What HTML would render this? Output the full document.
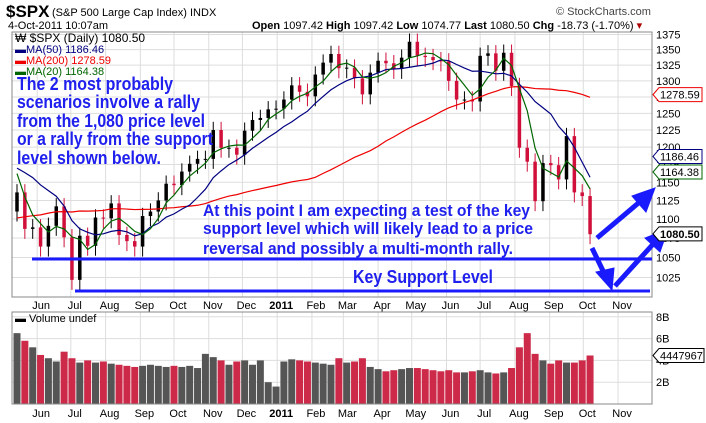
<!DOCTYPE html>
<html><head><meta charset="utf-8"><style>
body{margin:0;background:#fff;width:706px;height:423px;overflow:hidden;font-family:"Liberation Sans",sans-serif}
svg{display:block}
</style></head><body>
<svg id="c" width="706" height="423" xmlns="http://www.w3.org/2000/svg" font-family="Liberation Sans, sans-serif">
<text x="6" y="17" font-size="17" font-weight="bold">$SPX</text>
<text x="52" y="16" font-size="11">(S&amp;P 500 Large Cap Index) INDX</text>
<text x="8" y="29" font-size="11">4-Oct-2011 10:07am</text>
<text x="556" y="15" font-size="11" fill="#444">© StockCharts.com</text>
<text x="252" y="29" font-size="11"><tspan font-weight="bold">Open</tspan> 1097.42 <tspan font-weight="bold">High</tspan> 1097.42 <tspan font-weight="bold">Low</tspan> 1074.77 <tspan font-weight="bold">Last</tspan> 1080.50 <tspan font-weight="bold">Chg</tspan> -18.73 (-1.70%) <tspan fill="#a00">▾</tspan></text>
<g id="grid"></g>
<g id="marks"></g>
<rect x="12" y="32" width="640" height="265" fill="none" stroke="#888"/>
<rect x="12" y="312" width="640" height="92" fill="none" stroke="#888"/>
<g font-size="11">
<text x="15" y="42" font-size="12">₩ $SPX (Daily) 1080.50</text>
<text x="15" y="53" fill="#000080">▬MA(50) 1186.46</text>
<text x="15" y="64" fill="#e00">▬MA(200) 1278.59</text>
<text x="15" y="75" fill="#060">▬MA(20) 1164.38</text>
</g>
<text x="15" y="322" font-size="11">▬ Volume undef</text>
<g font-size="18" font-weight="bold" fill="#2020ee">
<text x="17" y="90" textLength="156" lengthAdjust="spacingAndGlyphs">The 2 most probably</text>
<text x="17" y="108" textLength="183" lengthAdjust="spacingAndGlyphs">scenarios involve a rally</text>
<text x="17" y="127" textLength="188" lengthAdjust="spacingAndGlyphs">from the 1,080 price level</text>
<text x="17" y="145" textLength="196" lengthAdjust="spacingAndGlyphs">or a rally from the support</text>
<text x="17" y="164" textLength="144" lengthAdjust="spacingAndGlyphs">level shown below.</text>
</g>
<g font-size="17" font-weight="bold" fill="#2020ee">
<text x="203" y="216" textLength="327" lengthAdjust="spacingAndGlyphs">At this point I am expecting a test of the key</text>
<text x="203" y="234" textLength="330" lengthAdjust="spacingAndGlyphs">support level which will likely lead to a price</text>
<text x="203" y="254" textLength="310" lengthAdjust="spacingAndGlyphs">reversal and possibly a multi-month rally.</text>
</g>
<text x="353" y="283" font-size="18" font-weight="bold" fill="#2020ee" textLength="140" lengthAdjust="spacingAndGlyphs">Key Support Level</text>
<line x1="32" y1="259" x2="652" y2="259" stroke="#1a1aff" stroke-width="3"/>
<line x1="75" y1="291" x2="650" y2="291" stroke="#1a1aff" stroke-width="3"/>
<g stroke="#1a1aff" stroke-width="5" fill="#1a1aff">
<line x1="597" y1="238" x2="642" y2="200"/><polygon points="655,188 632,196 646,212" stroke-width="1"/>
<line x1="592" y1="248" x2="605" y2="275"/><polygon points="612,290 596,272 614,268" stroke-width="1"/>
<line x1="615" y1="286" x2="655" y2="242"/><polygon points="668,229 645,238 660,252" stroke-width="1"/>
</g>
<g id="tags"></g>
</svg>
<script>
const histCloses=[1010,1004,1026,1029,1021,998,1042,1068,1044,1025,1071,1087,1079,1036,1069,1093,1091,1091,1105,1106,1102,1126,1115,1144,1136,1091,1073,1066,1075,1109,1104,1138,1150,1159,1166,1169,1194,1211,1217,1186,1110];
const closes=[1136,1087,1089,1064,1091,1117,1076,1022,1078,1065,
1102,1101,1121,1079,1071,1064,1104,1110,1125,1148,
1146,1165,1176,1183,1183,1225,1199,1199,1189,1224,
1240,1243,1256,1257,1271,1293,1283,1276,1310,1329,
1343,1320,1321,1304,1279,1313,1332,1328,1319,1337,
1363,1340,1338,1333,1331,1300,1271,1271,1268,1340,
1344,1316,1345,1292,1199,1179,1124,1177,1174,1154,
1216,1136,1131,1080];
const volumes=[6.5,5.8,5.2,4.5,4.2,3.9,4.8,4.2,3.8,4.0,
3.8,3.9,3.7,3.6,3.5,3.4,3.5,3.6,3.5,3.4,
3.5,3.4,3.5,3.3,4.6,4.3,4.0,3.6,3.9,4.0,
3.6,4.0,2.0,1.6,3.9,4.1,4.0,3.9,3.8,3.7,
3.6,4.2,3.8,3.9,4.2,3.4,3.2,3.0,3.1,3.2,
3.3,3.3,3.2,3.1,3.0,3.1,2.9,2.9,3.0,3.1,
2.9,2.8,2.9,3.3,5.2,6.5,4.6,4.0,3.7,4.0,
3.8,3.8,4.0,4.45];
const priceTicks=[1025,1050,1075,1100,1125,1150,1175,1200,1225,1250,1275,1300,1325,1350,1375];
const volTicks=[2,4,6,8];
const monthLabels=["Jun","Jul","Aug","Sep","Oct","Nov","Dec","2011","Feb","Mar","Apr","May","Jun","Jul","Aug","Sep","Oct","Nov"];
const monthDays=[18,48,79,110,140,171,201,232,263,291,322,352,383,413,444,475,505,536];
const tagValues=[1278.59,1186.46,1164.38,1080.50];
const tagText=["1278.59","1186.46","1164.38","1080.50"];
const tagColors=["#e00","#000080","#060","#000"];

const NS="http://www.w3.org/2000/svg";
const yP=p=>34.5+(Math.log(1375)-Math.log(p))*827;
const yV=v=>404-v*10.9;
const xI=i=>17+i*7.85;
const xD=d=>17+d*1.1214;
function mk(tag,attrs,parent,txt){const e=document.createElementNS(NS,tag);for(const k in attrs)e.setAttribute(k,attrs[k]);if(txt!=null)e.textContent=txt;parent.appendChild(e);return e;}
const grid=document.getElementById('grid'),marks=document.getElementById('marks'),tags=document.getElementById('tags');
priceTicks.forEach(t=>{
 const l=mk('line',{x1:12,x2:652,y1:yP(t),y2:yP(t),stroke:'#ddd'},grid);
 
 
 const tx=mk('text',{x:656,y:yP(t)+4,'font-size':11},grid,t);
 
 
});
volTicks.forEach(t=>{
 const l=mk('line',{x1:12,x2:652,y1:yV(t),y2:yV(t),stroke:'#ddd'},grid);
 
 
 const tx=mk('text',{x:656,y:yV(t)+4,'font-size':11},grid,t+'B');
 
 
});
monthDays.forEach((d,i)=>{
 const x=xD(d);
 const l1=mk('line',{x1:x,x2:x,y1:32,y2:297,stroke:'#ddd'},grid);
 
 
 const l2=mk('line',{x1:x,x2:x,y1:312,y2:404,stroke:'#ddd'},grid);
 
 
 const b=monthLabels[i]==="2011";
 const t1=mk('text',{x:x+4,y:309,'font-size':11,'text-anchor':'middle','font-weight':b?'bold':'normal'},grid,monthLabels[i]);
 
 
 const t2=mk('text',{x:x+4,y:417,'font-size':11,'text-anchor':'middle','font-weight':b?'bold':'normal'},grid,monthLabels[i]);
 
 
});
const all=histCloses.concat(closes),H=histCloses.length;
closes.forEach((c,i)=>{
 const prev=i?closes[i-1]:histCloses[H-1];
 const up=c>=prev,col=up?'#000':'#d0103a';
 const hi=Math.max(c,prev)*1.01,lo=Math.min(c,prev)*0.988,x=xI(i);
 const w=mk('line',{x1:x,x2:x,y1:yP(hi),y2:yP(lo),stroke:col,'stroke-width':1},marks);
 
 
 const b=mk('rect',{x:x-1.75,y:yP(Math.max(c,prev)),width:3.5,height:Math.max(1,yP(Math.min(c,prev))-yP(Math.max(c,prev))),fill:col},marks);
 
 
 const v=volumes[i];
 const vb=mk('rect',{x:x-3.5,y:yV(v),width:7,height:404-yV(v),fill:up?'#555':'#cc2a48'},marks);
 
 
});
function ma(n,col,name){
 const pts=closes.map((c,i)=>{const s=all.slice(H+i-n+1,H+i+1);return xI(i)+','+yP(s.reduce((a,b)=>a+b,0)/s.length);});
 const p=mk('polyline',{points:pts.join(' '),fill:'none',stroke:col,'stroke-width':1.2},marks);
 
 
}
ma(40,'#e00','ma200-line');ma(10,'#000080','ma50-line');ma(4,'#060','ma20-line');
tagValues.forEach((v,i)=>{
 const y=yP(v);
 const g=mk('g',{},tags);
 
 
 mk('polygon',{points:`653,${y} 659,${y-7} 702,${y-7} 702,${y+7} 659,${y+7}`,fill:'#fff',stroke:tagColors[i]},g);
 mk('text',{x:660,y:y+4,'font-size':11,'font-weight':i==3?'bold':'normal'},g,tagText[i]);
});
(function(){const y=yV(4.45);const g=mk('g',{},tags);
 
 
 mk('polygon',{points:`653,${y} 659,${y-7} 704,${y-7} 704,${y+7} 659,${y+7}`,fill:'#fff',stroke:'#000'},g);
 mk('text',{x:660,y:y+4,'font-size':11},g,'4447967');})();
</script>
</body></html>
